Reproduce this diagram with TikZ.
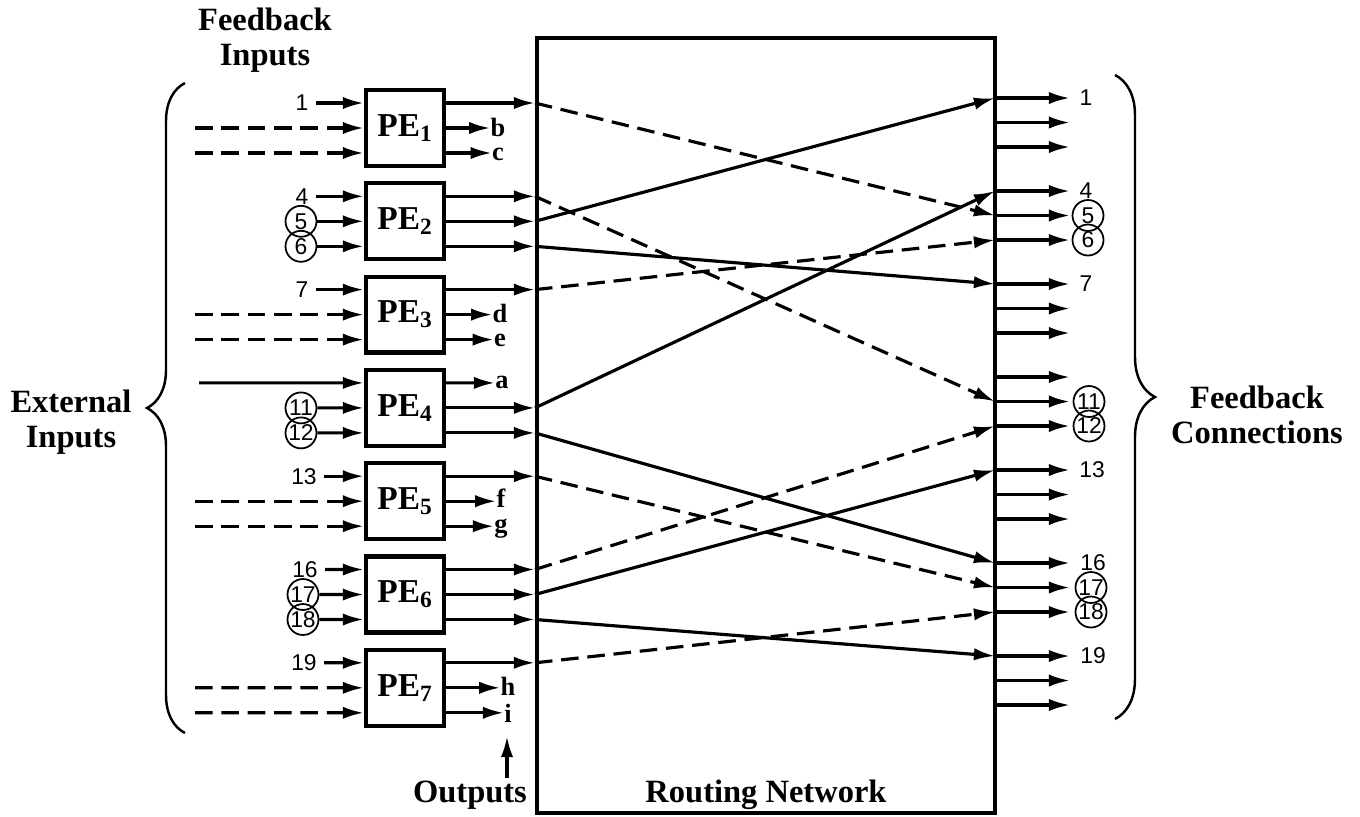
\documentclass[tikz,border=0pt]{standalone}
\usepackage{fontspec}
\setmainfont{Liberation Serif}
\newfontfamily\numfont{Liberation Sans}
\usetikzlibrary{arrows.meta, calc, decorations.pathreplacing}

\tikzset{
  pebox/.style={draw, line width=2.4pt, minimum width=1.56cm, minimum height=1.52cm,
    inner sep=0pt, font=\fontsize{19}{22}\selectfont\bfseries},
  feed/.style={font=\numfont\fontsize{13}{15}\selectfont, inner sep=1pt},
  feedc/.style={feed, circle, draw, line width=1pt, minimum size=0.62cm, inner sep=0pt},
  outlbl/.style={font=\fontsize{15}{16}\selectfont\bfseries, inner sep=0pt},
  wire/.style={->, line width=1.8pt},
  dwire/.style={wire, dash pattern=on 10pt off 5pt},
  lbl/.style={shorten <=3pt},
  caption/.style={font=\fontsize{18.5}{20}\selectfont\bfseries, align=center},
  bracket/.style={line width=1.4pt, decorate},
}

\begin{document}
\begin{tikzpicture}[x=0.02cm, y=-0.02cm, >={Latex[length=12pt, width=7pt]}]
    \useasboundingbox (0,0) rectangle (1360,816);

    % routing network
    \node[draw, line width=2.4pt, minimum width=9.16cm, minimum height=15.5cm, inner sep=0pt] (net) at (766,425.5) {};
    \node[caption] (netname) at (766,795) {Routing Network};

    % processing elements and their ports
    \foreach \k in {1,...,7} {
        \node[pebox] (pe\k) at (405,{128+93.3*(\k-1)}) {PE\textsubscript{\k}};
        \foreach \r in {1,2,3} {
            \coordinate (pe\k-in\r) at ($(pe\k.west)+(0,{25*(\r-2)})$);
            \coordinate (pe\k-out\r) at ($(pe\k.east)+(0,{25*(\r-2)})$);
            \coordinate (net-in\k\r) at (net.west |- pe\k-out\r);
            \coordinate (net-out\k\r) at (995,{98+93*(\k-1)+24.5*(\r-1)});
            \coordinate (fb\k\r) at (1070,{98+93*(\k-1)+24.5*(\r-1)});
        }
    }

    % PE1
    \node[feed] (in1) at (302,103) {1};
    \coordinate (ext1b) at (195,128);
    \coordinate (ext1c) at (195,153);
    \draw[wire, lbl] (in1) -- (pe1-in1);
    \draw[dwire] (ext1b) -- (pe1-in2);
    \draw[dwire] (ext1c) -- (pe1-in3);
    \draw[wire] (pe1-out1) -- (net-in11);
    \node[outlbl] (ob) at (498,127) {b};
    \node[outlbl] (oc) at (498,154) {c};
    \draw[wire] (pe1-out2) -- (ob.west |- pe1-out2);
    \draw[wire] (pe1-out3) -- (oc.west |- pe1-out3);

    % PE2
    \node[feed] (in4) at (302,196.3) {4};
    \node[feedc] (in5) at (301,221.3) {5};
    \node[feedc] (in6) at (301,246.3) {6};
    \draw[wire, lbl] (in4) -- (pe2-in1);
    \draw[wire] (in5) -- (pe2-in2);
    \draw[wire] (in6) -- (pe2-in3);
    \draw[wire] (pe2-out1) -- (net-in21);
    \draw[wire] (pe2-out2) -- (net-in22);
    \draw[wire] (pe2-out3) -- (net-in23);

    % PE3
    \node[feed] (in7) at (302,289.6) {7};
    \coordinate (ext3b) at (195,314.6);
    \coordinate (ext3c) at (195,339.6);
    \draw[wire, lbl] (in7) -- (pe3-in1);
    \draw[dwire] (ext3b) -- (pe3-in2);
    \draw[dwire] (ext3c) -- (pe3-in3);
    \draw[wire] (pe3-out1) -- (net-in31);
    \node[outlbl] (od) at (500,313.6) {d};
    \node[outlbl] (oe) at (500,340.6) {e};
    \draw[wire] (pe3-out2) -- (od.west |- pe3-out2);
    \draw[wire] (pe3-out3) -- (oe.west |- pe3-out3);

    % PE4
    \coordinate (ext4a) at (199,382.9);
    \node[feedc] (in11) at (301,407.9) {11};
    \node[feedc] (in12) at (301,432.9) {12};
    \draw[wire] (ext4a) -- (pe4-in1);
    \draw[wire] (in11) -- (pe4-in2);
    \draw[wire] (in12) -- (pe4-in3);
    \node[outlbl] (oa) at (502,382.9) {a};
    \draw[wire] (pe4-out1) -- (oa);
    \draw[wire] (pe4-out2) -- (net-in42);
    \draw[wire] (pe4-out3) -- (net-in43);

    % PE5
    \node[feed] (in13) at (304,476.2) {13};
    \coordinate (ext5b) at (195,501.2);
    \coordinate (ext5c) at (195,526.2);
    \draw[wire, lbl] (in13) -- (pe5-in1);
    \draw[dwire] (ext5b) -- (pe5-in2);
    \draw[dwire] (ext5c) -- (pe5-in3);
    \draw[wire] (pe5-out1) -- (net-in51);
    \node[outlbl] (of) at (501,498) {f};
    \node[outlbl] (og) at (501,529) {g};
    \draw[wire] (pe5-out2) -- (of.west |- pe5-out2);
    \draw[wire] (pe5-out3) -- (og.west |- pe5-out3);

    % PE6
    \node[feed] (in16) at (305,569.5) {16};
    \node[feedc] (in17) at (303,594.5) {17};
    \node[feedc] (in18) at (303,619.5) {18};
    \draw[wire, lbl] (in16) -- (pe6-in1);
    \draw[wire] (in17) -- (pe6-in2);
    \draw[wire] (in18) -- (pe6-in3);
    \draw[wire] (pe6-out1) -- (net-in61);
    \draw[wire] (pe6-out2) -- (net-in62);
    \draw[wire] (pe6-out3) -- (net-in63);

    % PE7
    \node[feed] (in19) at (304,662.8) {19};
    \coordinate (ext7b) at (195,687.8);
    \coordinate (ext7c) at (195,712.8);
    \draw[wire, lbl] (in19) -- (pe7-in1);
    \draw[dwire] (ext7b) -- (pe7-in2);
    \draw[dwire] (ext7c) -- (pe7-in3);
    \draw[wire] (pe7-out1) -- (net-in71);
    \node[outlbl] (oh) at (508,686.8) {h};
    \node[outlbl] (oi) at (508,713.8) {i};
    \draw[wire] (pe7-out2) -- (oh.west |- pe7-out2);
    \draw[wire] (pe7-out3) -- (oi.west |- pe7-out3);

    % outputs pointer
    \coordinate (outs-tail) at (507,778);
    \coordinate (outs-tip) at (507,736);
    \draw[wire] (outs-tail) -- (outs-tip);
    \node[caption] (outs) at (470,795) {Outputs};

    % paths through the routing network
    \draw[dwire] (net-in11) -- (net-out22);
    \draw[dwire] (net-in21) -- (net-out42);
    \draw[wire] (net-in22) -- (net-out11);
    \draw[wire] (net-in23) -- (net-out31);
    \draw[dwire] (net-in31) -- (net-out23);
    \draw[wire] (net-in42) -- (net-out21);
    \draw[wire] (net-in43) -- (net-out61);
    \draw[dwire] (net-in51) -- (net-out62);
    \draw[dwire] (net-in61) -- (net-out43);
    \draw[wire] (net-in62) -- (net-out51);
    \draw[wire] (net-in63) -- (net-out71);
    \draw[dwire] (net-in71) -- (net-out63);

    % feedback connections leaving the network
    \foreach \k in {1,...,7} {
        \foreach \r in {1,2,3} {
            \draw[wire] (net-out\k\r) -- (fb\k\r);
        }
    }
    \node[feed] (out1) at (1086,98) {1};
    \node[feed] (out4) at (1086,191) {4};
    \node[feedc] (out5) at (1088,215.5) {5};
    \node[feedc] (out6) at (1088,240) {6};
    \node[feed] (out7) at (1086,284) {7};
    \node[feedc] (out11) at (1089,401.5) {11};
    \node[feedc] (out12) at (1089,426) {12};
    \node[feed] (out13) at (1092,470) {13};
    \node[feed] (out16) at (1093,563) {16};
    \node[feedc] (out17) at (1091,587.5) {17};
    \node[feedc] (out18) at (1091,612) {18};
    \node[feed] (out19) at (1093,656) {19};

    % braces and group captions
    \draw[bracket, decoration={brace, amplitude=0.76cm}] (185,733) -- (185,83);
    \draw[bracket, decoration={brace, amplitude=0.8cm}] (1115,75) -- (1115,719);
    \node[caption] (fbin) at (265,40) {Feedback\\Inputs};
    \node[caption] (extin) at (71,422) {External\\Inputs};
    \node[caption] (fbcon) at (1257,415) {Feedback\\Connections};
\end{tikzpicture}
\end{document}
